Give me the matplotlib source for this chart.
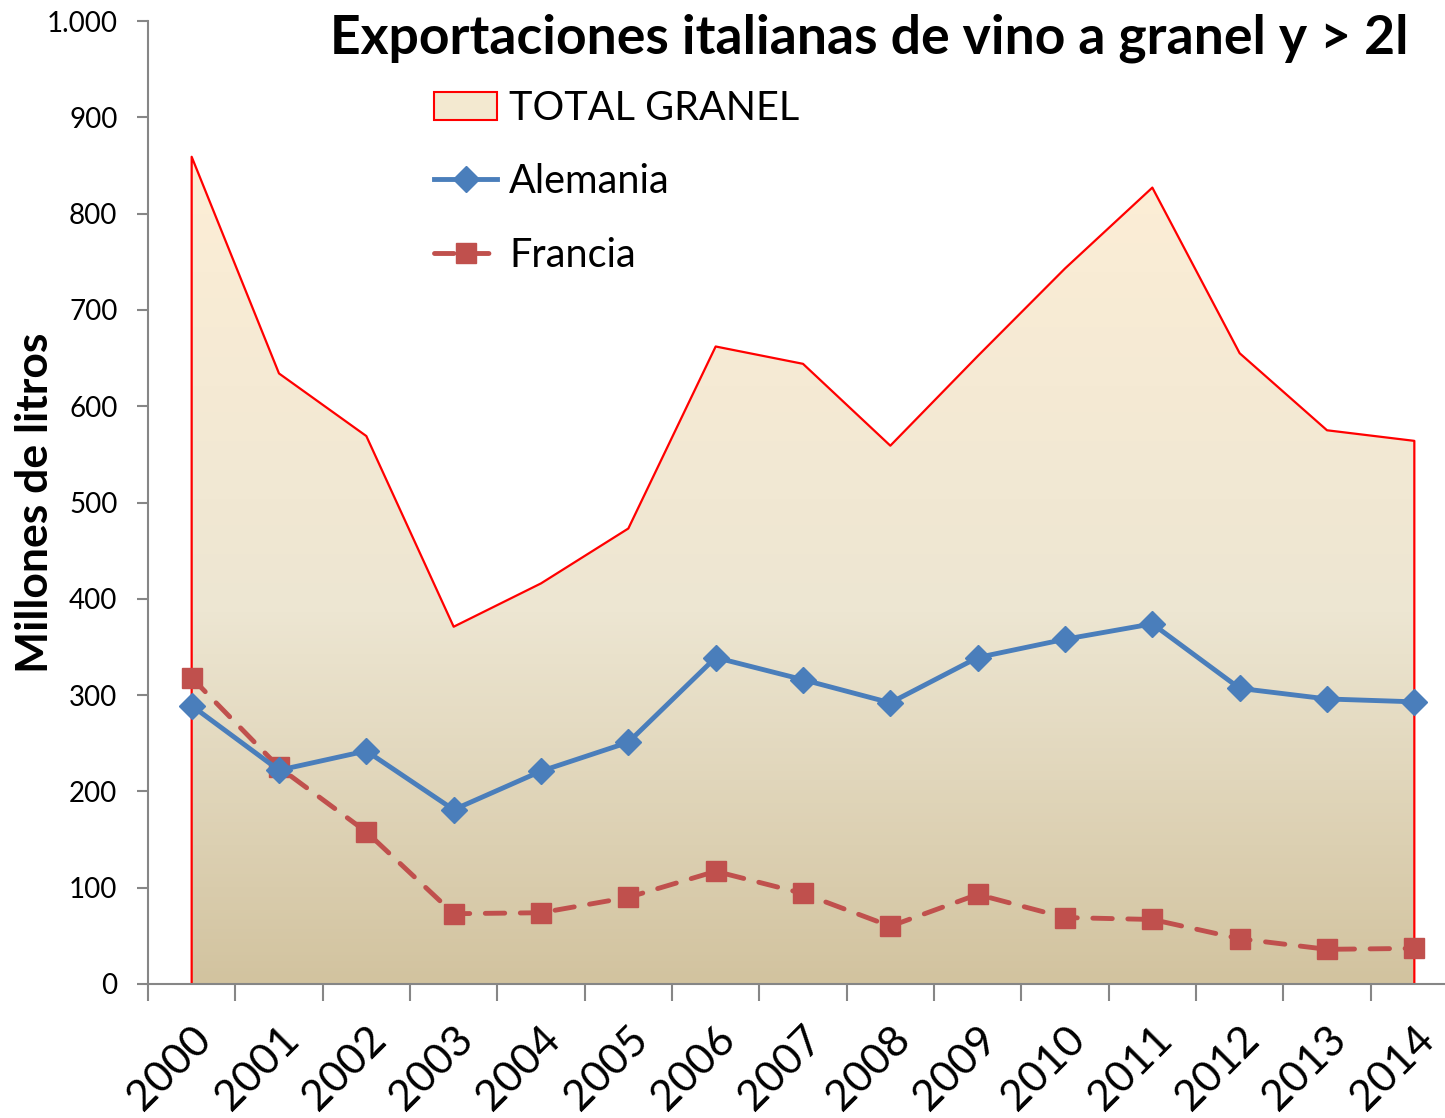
import numpy as np
import matplotlib as mpl
import matplotlib.pyplot as plt
from matplotlib.colors import LinearSegmentedColormap
from matplotlib.patches import Patch
from matplotlib.lines import Line2D

mpl.use('Agg')
plt.rcParams['font.family'] = ['Lato', 'DejaVu Sans']

anios = ['2000', '2001', '2002', '2003', '2004', '2005', '2006', '2007',
         '2008', '2009', '2010', '2011', '2012', '2013', '2014']
total_granel = [859, 634, 569, 371, 416, 473, 662, 644, 559, 652, 743, 827, 655, 575, 564]
alemania = [289, 222, 242, 181, 221, 251, 339, 316, 292, 339, 358, 374, 307, 296, 293]
francia = [318, 225, 158, 73, 74, 90, 117, 94, 60, 93, 69, 67, 47, 36, 37]

W, H = 1445, 1118
fig = plt.figure(figsize=(W / 100, H / 100), dpi=100)
ax = fig.add_axes([148 / W, 1 - 984 / H, (1458 - 148) / W, (984 - 21) / H])

x = np.arange(len(anios))

# area con degradado
cmap = LinearSegmentedColormap.from_list(
    'granel', [(0, '#D2C39F'), (0.45, '#EDE6D2'), (1, '#FDEED6')])
ytop = max(total_granel)
grad = np.linspace(0, 1, 256).reshape(-1, 1)
img = ax.imshow(grad, cmap=cmap, origin='lower', aspect='auto',
                extent=[x[0], x[-1], 0, ytop], zorder=1)
poly = ax.fill_between(x, 0, total_granel, facecolor='none', edgecolor='none')
clip = poly.get_paths()[0]
img.set_clip_path(clip, ax.transData)
ax.plot(np.r_[x[0], x, x[-1]], np.r_[0, total_granel, 0], color='#FF0000',
        lw=1.6, zorder=2)

dash = (0, (4, 3.2))
ax.plot(x, alemania, color='#4A7EBB', lw=3.5, marker='D', ms=13,
        zorder=4, solid_capstyle='round')
ax.plot(x, francia, color='#C0504D', lw=3.5, ls=dash, marker='s', ms=14,
        dash_capstyle='round', zorder=3)

ax.set_xlim(-0.5, len(anios) - 0.5)
ax.set_ylim(0, 1000)
ax.set_yticks(range(0, 1001, 100))
ax.set_yticklabels(['0', '100', '200', '300', '400', '500', '600', '700',
                    '800', '900', '1.000'], fontsize=20)
ax.set_xticks(np.arange(-0.5, len(anios), 1))
ax.set_xticklabels([])
ax.set_xticks(x, minor=True)
ax.set_xticklabels(anios, minor=True, rotation=45, ha='right',
                   rotation_mode='anchor', fontsize=31)
ax.tick_params(axis='x', which='major', length=12, width=1.5, color='#868686')
ax.tick_params(axis='x', which='minor', length=0, pad=26)
ax.tick_params(axis='y', length=8, width=1.5, color='#868686', pad=14)
for s in ['top', 'right']:
    ax.spines[s].set_visible(False)
for s in ['left', 'bottom']:
    ax.spines[s].set_color('#868686')
    ax.spines[s].set_linewidth(1.5)
    ax.spines[s].set_zorder(5)

ax.set_ylabel('Millones de litros', fontsize=32, fontweight='bold', labelpad=-6)

fig.text(330 / W, 1 - 38 / H, 'Exportaciones italianas de vino a granel y > 2l',
         fontsize=38.5, fontweight='bold', va='center', ha='left')

handles = [Patch(facecolor='#F3E9D0', edgecolor='#FF0000', lw=1.5),
           Line2D([], [], color='#4A7EBB', lw=3.5, marker='D', ms=13),
           Line2D([], [], color='#C0504D', lw=3.5, ls=dash, marker='s', ms=14,
                  dash_capstyle='round')]
ax.legend(handles, ['TOTAL GRANEL', 'Alemania', 'Francia'],
          loc='upper left', bbox_to_anchor=(418 / W, 1 - 74 / H),
          bbox_transform=fig.transFigure, frameon=False, fontsize=28.5,
          handlelength=1.6, handleheight=0.7, handletextpad=0.3,
          labelspacing=0.92, borderaxespad=0)

fig.savefig('out.png', dpi=100)
